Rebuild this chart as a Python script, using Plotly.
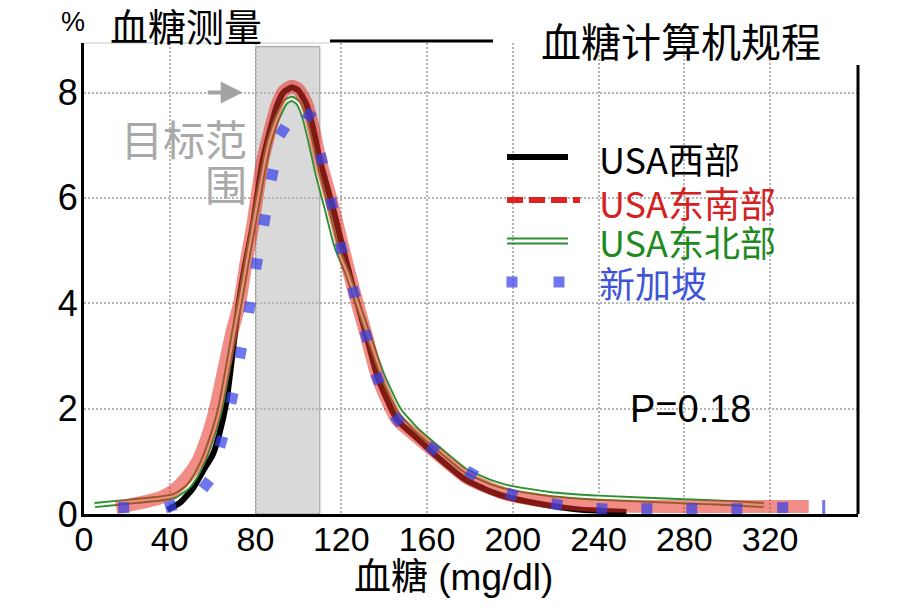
import math
import plotly.graph_objects as go

# ---------------- data ----------------
x_ticks = [0, 40, 80, 120, 160, 200, 240, 280, 320]
y_ticks = [0, 2, 4, 6, 8]
target_low, target_high = 80, 110
target_top = 8.87

series_names = ["USA西部", "USA东南部", "USA东北部", "新加坡"]

west_x = [39, 45, 51, 56, 60, 63, 66.5, 69, 72, 75, 78.6, 83.4, 89.8, 93, 97, 100, 103.7,
          107, 110, 116, 120.6, 126, 131.6, 137, 146, 155, 163, 178, 190, 198.5, 217, 232, 253]
west_y = [0.08, 0.22, 0.5, 0.85, 1.12, 1.5, 2.15, 2.95, 3.95, 4.7, 5.45, 6.72, 7.73, 8.0, 8.1,
          8.04, 7.78, 7.3, 6.72, 5.83, 5.07, 4.22, 3.4, 2.59, 1.79, 1.45, 1.15, 0.65, 0.42, 0.31,
          0.16, 0.08, 0.04]

southeast_x = [15, 25, 35, 42, 48, 53, 57, 61, 65, 69, 72.6, 75.5, 78.6, 83.4, 89.8, 93, 97, 100,
               103.7, 107, 110, 116, 120.6, 126, 131.6, 137, 146, 155, 163, 178, 190, 198.5, 210,
               220, 240, 270, 300, 338]
southeast_y = [0.12, 0.2, 0.3, 0.45, 0.7, 1.0, 1.4, 1.95, 2.7, 3.45, 4.0, 4.75, 5.45, 6.72, 7.73,
               8.02, 8.12, 8.06, 7.8, 7.32, 6.74, 5.85, 5.08, 4.22, 3.4, 2.59, 1.79, 1.47, 1.2, 0.7,
               0.48, 0.36, 0.27, 0.22, 0.16, 0.14, 0.14, 0.14]

northeast_x = [5, 15, 25, 35, 42, 48, 52, 56, 60, 63.5, 67, 70, 73, 76, 79.5, 83, 86, 90, 94, 97,
               100, 103, 106, 109, 113, 117.8, 123, 128, 133, 139, 147, 155, 163, 178, 190, 198.5,
               217, 240, 280, 300, 317]
northeast_y = [0.17, 0.21, 0.25, 0.29, 0.34, 0.5, 0.72, 1.05, 1.5, 2.0, 2.75, 3.45, 4.1, 4.8, 5.6,
               6.4, 7.0, 7.5, 7.82, 7.88, 7.8, 7.5, 7.0, 6.45, 5.83, 5.07, 4.55, 3.95, 3.35, 2.65,
               1.97, 1.6, 1.32, 0.82, 0.6, 0.5, 0.38, 0.31, 0.24, 0.21, 0.17]

singapore_x = [18.5, 40.4, 57, 64, 69, 73, 77.2, 80.5, 84.2, 87.8, 92.6, 105, 110.8, 115.5, 120,
               125.9, 131.6, 137, 146.3, 162.7, 180.8, 199.5, 220.5, 241.5, 262.5, 283.5, 304.5,
               325.9, 345]
singapore_y = [0.12, 0.15, 0.56, 1.37, 2.2, 3.06, 3.92, 4.75, 5.58, 6.44, 7.27, 7.57, 6.74, 5.89,
               5.05, 4.21, 3.38, 2.57, 1.79, 1.24, 0.77, 0.37, 0.18, 0.1, 0.1, 0.1, 0.1, 0.12, 0.12]

p_text = "P=0.18"

# ---------------- geometry helpers (page pixels) ----------------
PAGE_W, PAGE_H = 920, 614
OFF = 8  # default page margin around the figure
W, H = PAGE_W - OFF, PAGE_H - OFF
L, R, T, B = 84, 858, 43, 514
X_MAX, Y_MAX = 361, 8.94


def pxx(p):
    return (p - L) / (R - L)


def pxy(p):
    return (B - p) / (B - T)


CJK = "Noto Sans CJK SC, Liberation Sans, sans-serif"
NUM = "Liberation Sans, Arial, Noto Sans CJK SC, sans-serif"

RED_T = "rgba(232,45,35,0.55)"
GREEN = "#2f8f2f"
BLUE_T = "rgba(55,65,232,0.72)"
GRID = "#b4b4b4"

# marker orientation along the path (pixel space)
sx = (R - L) / X_MAX
sy = (B - T) / Y_MAX
angles = []
n = len(singapore_x)
for i in range(n):
    a = max(i - 1, 0)
    b = min(i + 1, n - 1)
    dx = (singapore_x[b] - singapore_x[a]) * sx
    dy = -(singapore_y[b] - singapore_y[a]) * sy
    angles.append(math.degrees(math.atan2(dy, dx)))
symbols = ["square"] * (n - 1) + ["line-ns"]
angles[-1] = 0
mline_w = [0] * (n - 1) + [3]

fig = go.Figure()
fig.add_trace(go.Scatter(x=west_x, y=west_y, mode="lines", name=series_names[0],
                         line=dict(color="black", width=6, shape="spline", smoothing=0.5)))
fig.add_trace(go.Scatter(x=northeast_x, y=northeast_y, mode="lines", name=series_names[2],
                         line=dict(color=GREEN, width=6, shape="spline", smoothing=0.5)))
fig.add_trace(go.Scatter(x=northeast_x, y=northeast_y, mode="lines", name=series_names[2],
                         line=dict(color="#f4fff4", width=2.2, shape="spline", smoothing=0.5)))
fig.add_trace(go.Scatter(x=southeast_x, y=southeast_y, mode="lines", name=series_names[1],
                         line=dict(color=RED_T, width=13, shape="spline", smoothing=0.5)))
fig.add_trace(go.Scatter(x=singapore_x, y=singapore_y, mode="markers", name=series_names[3],
                         marker=dict(symbol=symbols, size=11, color=BLUE_T, angle=angles,
                                     line=dict(width=mline_w, color=BLUE_T))))

shapes = []
# target range
shapes.append(dict(type="rect", xref="x", yref="y", x0=target_low, x1=target_high, y0=0,
                   y1=target_top, fillcolor="#d9d9d9", line=dict(color="#9a9a9a", width=1),
                   layer="below"))
# white boxes hiding gridlines
for (x0, x1, y0, y1) in [(493, 870, 0, 65), (588, 790, 130, 307), (617, 765, 383, 435)]:
    shapes.append(dict(type="rect", xref="paper", yref="paper", x0=pxx(x0), x1=pxx(x1),
                       y0=pxy(y1), y1=pxy(y0), fillcolor="white", line=dict(width=0),
                       layer="between"))
# frame pieces
shapes.append(dict(type="line", xref="paper", yref="paper", x0=0, x1=pxx(330), y0=1, y1=1,
                   line=dict(color="#c8c8c8", width=1)))
shapes.append(dict(type="line", xref="paper", yref="paper", x0=pxx(330), x1=pxx(493),
                   y0=pxy(41), y1=pxy(41), line=dict(color="black", width=3)))
shapes.append(dict(type="line", xref="paper", yref="paper", x0=1, x1=1, y0=0, y1=pxy(65),
                   line=dict(color="black", width=3)))
# legend samples
shapes.append(dict(type="line", xref="paper", yref="paper", x0=pxx(507), x1=pxx(568),
                   y0=pxy(157), y1=pxy(157), line=dict(color="black", width=6)))
shapes.append(dict(type="line", xref="paper", yref="paper", x0=pxx(507), x1=pxx(580),
                   y0=pxy(200), y1=pxy(200), line=dict(color="#e02424", width=6, dash="16px,6px")))
for yy in (238.5, 243.5):
    shapes.append(dict(type="line", xref="paper", yref="paper", x0=pxx(507), x1=pxx(568),
                       y0=pxy(yy), y1=pxy(yy), line=dict(color=GREEN, width=2)))
for cx in (512, 559):
    shapes.append(dict(type="rect", xref="paper", yref="paper", x0=pxx(cx - 5.5), x1=pxx(cx + 5.5),
                       y0=pxy(287.5), y1=pxy(276.5), fillcolor=BLUE_T, line=dict(width=0)))

ann = []


def txt(text, cx, cy, size, color="black", xanchor="center", family=CJK, **kw):
    d = dict(text=text, xref="paper", yref="paper", x=pxx(cx), y=pxy(cy), xanchor=xanchor,
             yanchor="middle", showarrow=False, font=dict(family=family, size=size, color=color))
    d.update(kw)
    ann.append(d)


txt("%", 73, 22, 27, family=NUM)
txt("血糖测量", 186, 24, 38)
txt("血糖计算机规程", 681, 40, 40)
txt("目标范", 249, 137, 42, color="#a9a9a9", xanchor="right")
txt("围", 249, 182, 42, color="#a9a9a9", xanchor="right")
txt("血糖 (mg/dl)", 453, 577, 37, family=NUM)
txt(p_text, 691, 409, 38, family=NUM)
legend_colors = ["black", "#d42222", "#1f8a1f", "#3f55d8"]
legend_y = [158, 202, 241, 282]
for name, col, yy in zip(series_names, legend_colors, legend_y):
    txt(name, 597, yy, 36, color=col, xanchor="left")

# arrow to target
ann.append(dict(x=74, y=8, ax=57, ay=8, xref="x", yref="y", axref="x", ayref="y", text="",
                showarrow=True, arrowhead=2, arrowsize=1.1, arrowwidth=4, arrowcolor="#a3a3a3"))

fig.update_layout(
    width=W, height=H,
    margin=dict(l=L - OFF, r=PAGE_W - R, t=T - OFF, b=PAGE_H - B, autoexpand=False),
    paper_bgcolor="white", plot_bgcolor="white",
    showlegend=False,
    shapes=shapes, annotations=ann,
    xaxis=dict(range=[0, X_MAX], tickvals=x_ticks, ticktext=[str(v) for v in x_ticks],
               showgrid=True, gridcolor=GRID, griddash="2px,2px", gridwidth=1.5,
               zeroline=False, showline=True, linecolor="black", linewidth=3,
               tickfont=dict(family=NUM, size=34, color="black"), ticks="",
               ticklabelstandoff=-7),
    yaxis=dict(range=[0, Y_MAX], tickvals=y_ticks, ticktext=[str(v) for v in y_ticks],
               showgrid=True, gridcolor=GRID, griddash="2px,2px", gridwidth=1.5,
               zeroline=False, showline=True, linecolor="black", linewidth=3,
               tickfont=dict(family=NUM, size=36, color="black"), ticks="",
               ticklabelstandoff=-4),
    hovermode=False,
)

fig.write_html("out.html")
